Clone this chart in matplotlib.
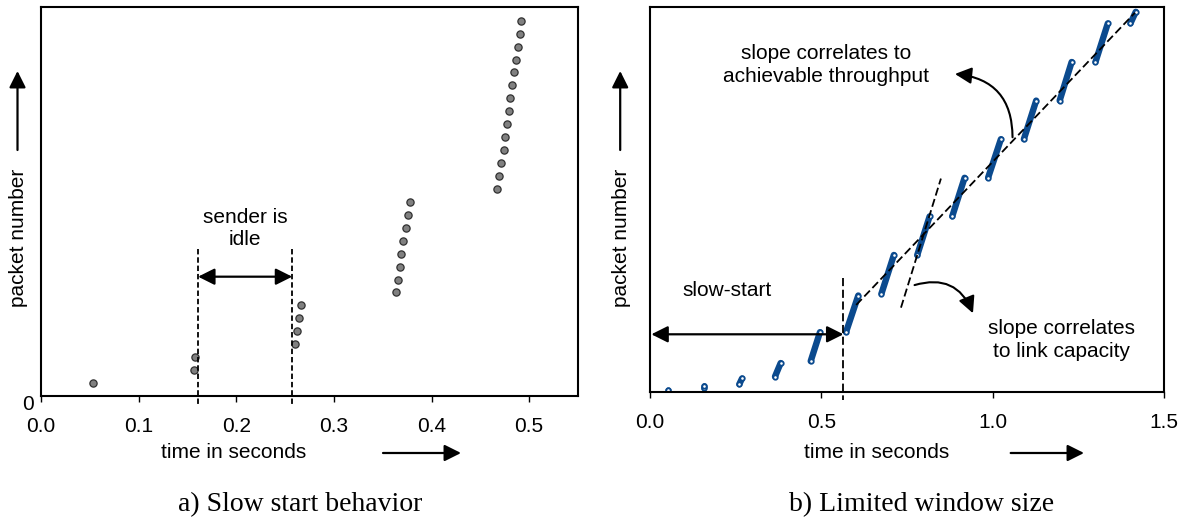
import numpy as np
import matplotlib.pyplot as plt
from matplotlib.patches import FancyArrowPatch

plt.rcParams['font.family'] = ['Liberation Sans', 'DejaVu Sans']

W, H = 1192, 523

# a) slow start: one dot per packet
t_a = [0.0528, 0.1564, 0.1582, 0.2597, 0.2625, 0.2638, 0.2658,
       0.364, 0.3656, 0.3672, 0.3691, 0.3711, 0.3738, 0.3758, 0.3777,
       0.4674, 0.4693, 0.4713, 0.4740, 0.4756, 0.4772, 0.4796, 0.4803,
       0.4826, 0.4846, 0.4865, 0.4885, 0.4905, 0.4920]
pkt_a = [1, 2, 3, 4, 5, 6, 7, 8, 9, 10, 11, 12, 13, 14, 15, 16, 17, 18, 19,
         20, 21, 22, 23, 24, 25, 26, 27, 28, 29]
idle_start, idle_end = 0.1609, 0.2573
xticks_a = [0.0, 0.1, 0.2, 0.3, 0.4, 0.5]

# b) limited window: each burst from first to last packet
burst_t0 = [0.0535, 0.1585, 0.2606, 0.3648, 0.469, 0.572, 0.6755, 0.780, 0.882, 0.9866, 1.091, 1.1955, 1.300, 1.402]
burst_t1 = [0.0535, 0.1590, 0.2685, 0.3813, 0.496, 0.6078, 0.7117, 0.816, 0.918, 1.024, 1.127, 1.2305, 1.336, 1.4176]
burst_p0 = [1, 2, 4, 8, 16, 31, 51, 71, 91, 111, 131, 151, 171, 191]
burst_p1 = [1, 3, 7, 15, 31, 50, 71, 91, 111, 131, 151, 171, 191, 197]
ss_end = 0.5645
thr_line_t = [0.6017, 1.415]
thr_line_p = [45.1, 196.5]
cap_line_t = [0.7324, 0.849]
cap_line_p = [43.7, 110.6]
xticks_b = [0.0, 0.5, 1.0, 1.5]

blue = '#0b4a8e'


def fx(x):
    return x / W


def fy(y):
    return 1 - y / H


fig = plt.figure(figsize=(W / 100, H / 100), dpi=100)

ax1 = fig.add_axes([fx(41), fy(396), 537 / W, 389 / H])
ax2 = fig.add_axes([fx(650), fy(392), 514 / W, 385 / H])

for ax in (ax1, ax2):
    for s in ax.spines.values():
        s.set_linewidth(1.5)
    ax.set_yticks([])
    ax.tick_params(axis='x', direction='out', length=4, width=1.0, pad=11, labelsize=15)

# ---- panel a
ax1.plot(t_a, pkt_a, 'o', ms=5.2, mfc='#808080', mec='#303030', mew=0.9)
ax1.set_xlim(0, 0.55)
ax1.set_ylim(0, 30.06)
ax1.set_xticks(xticks_a)
ax1.set_xticklabels(['%.1f' % v for v in xticks_a])
for x in (idle_start, idle_end):
    ax1.plot([x, x], [11.36, -0.8], color='k', lw=1.3, ls=(0, (3, 1.6)), clip_on=False)
ax1.annotate('', xy=(idle_start, 9.22), xytext=(idle_end, 9.22),
             arrowprops=dict(arrowstyle='<|-|>,head_length=0.5,head_width=0.25',
                             lw=1.6, color='k', mutation_scale=20, shrinkA=0, shrinkB=0))
ax1.text((idle_start + idle_end) / 2, 12.94, 'sender is\nidle', ha='center', va='center',
         fontsize=15, linespacing=1.2)

# ---- panel b
for a, b, p, q in zip(burst_t0, burst_t1, burst_p0, burst_p1):
    ax2.plot([a, b], [p, q], color=blue, lw=4.6, solid_capstyle='round')
    ax2.plot([a, b], [p, q], 'o', ms=3.2, mfc='white', mec=blue, mew=1.3)
ax2.set_xlim(0, 1.5)
ax2.set_ylim(0, 199.5)
ax2.set_xticks(xticks_b)
ax2.set_xticklabels(['%.1f' % v for v in xticks_b])
ax2.plot([ss_end, ss_end], [59.1, -4.1], color='k', lw=1.3, ls=(0, (4.5, 2)), clip_on=False)
ax2.plot(thr_line_t, thr_line_p, color='k', lw=1.3, ls=(0, (4.5, 2)))
ax2.plot(cap_line_t, cap_line_p, color='k', lw=1.3, ls=(0, (4.5, 2)))
ax2.annotate('', xy=(0.004, 29.9), xytext=(ss_end, 29.9),
             arrowprops=dict(arrowstyle='<|-|>,head_length=0.5,head_width=0.25',
                             lw=1.6, color='k', mutation_scale=20, shrinkA=0, shrinkB=0))
ax2.text(0.226, 52.8, 'slow-start', ha='center', va='center', fontsize=15)
ax2.text(0.515, 169.3, 'slope correlates to\nachievable throughput', ha='center', va='center',
         fontsize=15, linespacing=1.25)
ax2.text(1.202, 26.9, 'slope correlates\nto link capacity', ha='center', va='center',
         fontsize=15, linespacing=1.25)
ax2.add_patch(FancyArrowPatch((1.058, 132), (0.890, 164.8), connectionstyle='arc3,rad=0.45',
                              arrowstyle='-|>,head_length=0.5,head_width=0.25', mutation_scale=20,
                              lw=1.5, color='k', shrinkA=0, shrinkB=0))
ax2.add_patch(FancyArrowPatch((0.772, 55.4), (0.9425, 40.8), connectionstyle='arc3,rad=-0.45',
                              arrowstyle='-|>,head_length=0.5,head_width=0.25', mutation_scale=20,
                              lw=1.5, color='k', shrinkA=0, shrinkB=0))

# ---- labels and axis arrows in figure pixels
arrow = dict(arrowstyle='-|>,head_length=0.5,head_width=0.25', lw=1.6, color='k',
             mutation_scale=20, shrinkA=0, shrinkB=0)
fig.text(fx(28.3), fy(404.5), '0', ha='center', va='center', fontsize=15)
for cx, ax_x0, ax_x1, yl_x, cap_x, cap in [
        (233.5, 383, 461, 19, 300, 'a) Slow start behavior'),
        (877, 1010.7, 1084, 621.7, 922, 'b) Limited window size')]:
    fig.text(fx(cx), fy(453), 'time in seconds', ha='center', va='center', fontsize=15)
    fig.add_artist(FancyArrowPatch((fx(ax_x0), fy(453)), (fx(ax_x1), fy(453)),
                                   transform=fig.transFigure, **arrow))
    fig.text(fx(yl_x), fy(238), 'packet number', ha='center', va='center', rotation=90, fontsize=15)
    fig.add_artist(FancyArrowPatch((fx(yl_x - 1.5), fy(150)), (fx(yl_x - 1.5), fy(71)),
                                   transform=fig.transFigure, **arrow))
    fig.text(fx(cap_x), fy(505), cap, ha='center', va='center', fontsize=20,
             family='Liberation Serif')

fig.savefig('out.png', dpi=100)
